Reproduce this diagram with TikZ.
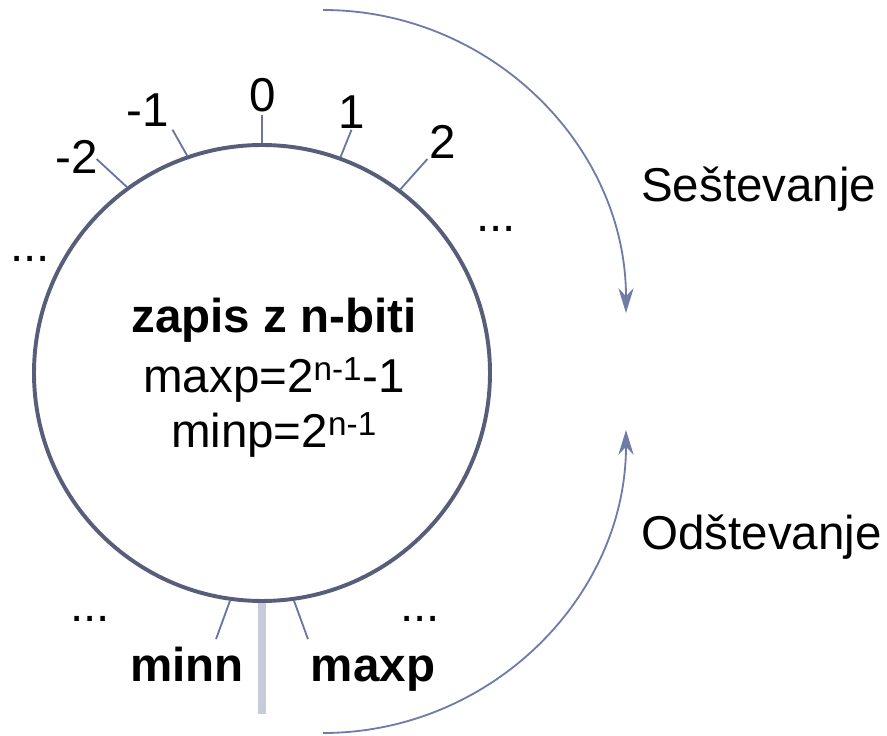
\documentclass[tikz,border=0pt]{standalone}
\usepackage{fontspec}
\setmainfont{Liberation Sans}
\usepackage{xcolor}
\usetikzlibrary{arrows.meta, positioning, calc}
\definecolor{krogmoder}{RGB}{88, 93, 122}
\definecolor{crticamoder}{RGB}{105, 118, 165}
\definecolor{puscicamoder}{RGB}{112, 124, 168}
\definecolor{stolpsiv}{RGB}{200, 203, 218}
\tikzset{
    krognode/.style={
        circle, draw=krogmoder, line width=2.8pt, minimum size=11.4cm, inner sep=0pt
    },
    crtica/.style={
        draw=crticamoder, line width=1.3pt
    },
    puscica/.style={
        -{Stealth[length=0.62cm, width=0.38cm, inset=0.2cm]}, draw=puscicamoder, line width=1.3pt
    },
    oznaka/.style={
        font=\fontsize{33.8}{40}\selectfont, inner sep=0pt
    },
    debela/.style={
        oznaka, font=\fontsize{33.8}{40}\selectfont\bfseries
    }
}

\begin{document}
\begin{tikzpicture}
    \useasboundingbox (-6.55,-9.075) rectangle (15.625,9.325);

    % --- KROG ---
    \node[krognode] (krog) at (0,0) {};

    % --- CRTICE (ime/kot na krogu/kot konca/polmer konca) ---
    \foreach \ime/\a/\b/\r in {t0/90/90/6.45, tp1/70.5/69.8/6.48, tm1/109.5/110.2/6.48,
                               tp2/53.7/52.3/6.76, tm2/126.3/127.7/6.76,
                               tmin/262/260.2/6.75, tmax/278/279.8/6.75}
        \draw[crtica] (krog.\a) -- (\b:\r) coordinate (\ime);

    % prelom med maxp in minn
    \coordinate (dno) at (0,-8.525);
    \draw[stolpsiv, line width=5pt] (krog.270) -- (dno);

    % --- OZNAKE ---
    \node[oznaka] (l0)  at (0.025,6.95)  {0};
    \node[oznaka] (lp1) at (2.25,6.525)  {1};
    \node[oznaka] (lm1) at (-2.85,6.575) {-1};
    \node[oznaka] (lp2) at (4.525,5.775) {2};
    \node[oznaka] (lm2) at (-4.625,5.4)  {-2};

    \node[oznaka, anchor=base] (pl) at (-5.8,2.775)  {...};
    \node[oznaka, anchor=base] (pd) at (5.85,3.525)  {...};
    \node[oznaka, anchor=base] (sl) at (-4.3,-6.225) {...};
    \node[oznaka, anchor=base] (sd) at (3.95,-6.225) {...};

    \node[debela, anchor=base] (lmin) at (-1.875,-7.725) {minn};
    \node[debela, anchor=base] (lmax) at (2.775,-7.725)  {maxp};

    % besedilo v krogu
    \node[debela, anchor=base] (naslov) at (0.3,1.0)   {zapis z n-biti};
    \node[oznaka, anchor=base] (maxpf)  at (0.3,-0.5)  {maxp=2\textsuperscript{n-1}-1};
    \node[oznaka, anchor=base] (minpf)  at (0.3,-1.875) {minp=2\textsuperscript{n-1}};

    % --- SEŠTEVANJE / ODŠTEVANJE ---
    \coordinate (zgoraj) at (1.525,9.075);
    \coordinate (spodaj) at (1.525,-9.0);
    \draw[puscica] (zgoraj) arc[start angle=90, end angle=0, radius=7.575cm];
    \draw[puscica] (spodaj) arc[start angle=-90, end angle=0, radius=7.575cm];

    \node[oznaka, anchor=base west] (sest) at (9.475,4.275)  {Seštevanje};
    \node[oznaka, anchor=base west] (odst) at (9.475,-4.425) {Odštevanje};
\end{tikzpicture}
\end{document}
